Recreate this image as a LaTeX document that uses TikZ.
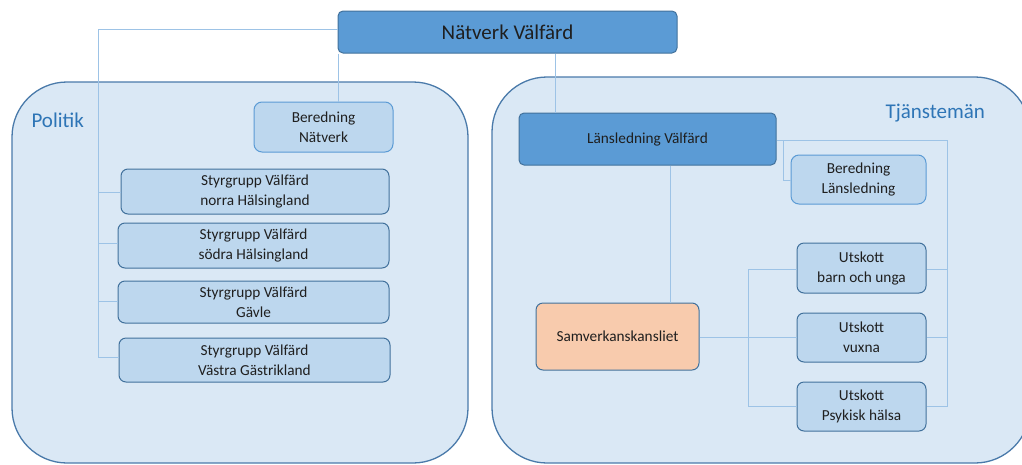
\documentclass[tikz,border=0pt]{standalone}
\usepackage{fontspec}
\setmainfont{Carlito}
\definecolor{darkfill}{HTML}{5B9BD5}
\definecolor{darkedge}{HTML}{41719C}
\definecolor{lightfill}{HTML}{BDD7EE}
\definecolor{contfill}{HTML}{DAE8F5}
\definecolor{contedge}{HTML}{4A7AAA}
\definecolor{linecol}{HTML}{9DC3E6}
\definecolor{orangefill}{HTML}{F8CBAD}
\definecolor{titlecol}{HTML}{2E75B6}
\definecolor{txt}{HTML}{1F1F1F}
\begin{document}
\begin{tikzpicture}[x=1pt,y=-1pt,
  container/.style={fill=contfill,draw=contedge,line width=1.3pt,rounded corners=55pt},
  topbox/.style={draw=darkedge,fill=darkfill,line width=1pt,rounded corners=5pt,text=txt},
  subbox/.style={draw=darkedge,fill=lightfill,line width=1pt,rounded corners=7pt,text=txt,align=center,font=\fontsize{15.3}{20}\selectfont},
  lightbox/.style={draw=darkfill,fill=lightfill,line width=1pt,rounded corners=8pt,text=txt,align=center,font=\fontsize{15.3}{20}\selectfont},
  conn/.style={draw=linecol,line width=1pt},
  grouplabel/.style={text=titlecol,font=\fontsize{21}{24}\selectfont,anchor=west}
]
\useasboundingbox (0,0) rectangle (1022,464);
\begin{scope}
\clip (0,0) rectangle (1022,464);
\draw[container] (12,82) rectangle (468,463);
\draw[container] (492,77) rectangle (1030,463);
\end{scope}
\node[grouplabel] (politik) at (28,120) {Politik};
\node[grouplabel] (tjanst) at (882,113) {Tjänstemän};

% boxes
\node[topbox,minimum width=339pt,minimum height=42pt,font=\fontsize{21}{24}\selectfont] (natverk) at (507.5,32) {Nätverk Välfärd};
\node[lightbox,minimum width=139pt,minimum height=50pt] (bern) at (323.5,127) {Beredning\\Nätverk};
\node[subbox,minimum width=268pt,minimum height=45pt] (s1) at (255,191.5) {Styrgrupp Välfärd\\norra Hälsingland};
\node[subbox,minimum width=271pt,minimum height=45pt] (s2) at (253.5,245.5) {Styrgrupp Välfärd\\södra Hälsingland};
\node[subbox,minimum width=271pt,minimum height=42pt] (s3) at (253.5,302) {Styrgrupp Välfärd\\Gävle};
\node[subbox,minimum width=271pt,minimum height=44pt] (s4) at (254.5,360) {Styrgrupp Välfärd\\Västra Gästrikland};

\node[topbox,minimum width=257pt,minimum height=52pt,font=\fontsize{15.3}{20}\selectfont] (lans) at (647.5,139) {Länsledning Välfärd};
\node[lightbox,minimum width=135pt,minimum height=49pt] (berl) at (858.5,179.5) {Beredning\\Länsledning};
\node[subbox,fill=orangefill,minimum width=163pt,minimum height=67pt] (samv) at (617.5,336.5) {Samverkanskansliet};
\node[subbox,minimum width=129pt,minimum height=50pt] (u1) at (861.5,268) {Utskott\\barn och unga};
\node[subbox,minimum width=129pt,minimum height=49pt] (u2) at (861.5,337.5) {Utskott\\vuxna};
\node[subbox,minimum width=129pt,minimum height=49pt] (u3) at (861.5,406.5) {Utskott\\Psykisk hälsa};

% connectors
\coordinate (lbus) at (98,29);
\draw[conn] (natverk.west |- lbus) -- (lbus) -- (98,357) -- (s4.west |- 0,357);
\draw[conn] (98,192) -- (s1.west |- 0,192);
\draw[conn] (98,243) -- (s2.west |- 0,243);
\draw[conn] (98,301) -- (s3.west |- 0,301);
\draw[conn] (natverk.south west -| 338.5,0) -- (bern.north -| 338.5,0);
\draw[conn] (natverk.south -| 555,0) -- (lans.north -| 555,0);
\draw[conn] (lans.east |- 0,140) -- (947,140) -- (947,406) -- (u3.east |- 0,406);
\draw[conn] (947,269) -- (u1.east |- 0,269);
\draw[conn] (947,337) -- (u2.east |- 0,337);
\draw[conn] (783,140) -- (783,180) -- (berl.west |- 0,180);
\draw[conn] (lans.south -| 670,0) -- (samv.north -| 670,0);
\draw[conn] (samv.east |- 0,337) -- (u2.west |- 0,337);
\draw[conn] (748,269) -- (748,406);
\draw[conn] (748,269) -- (u1.west |- 0,269);
\draw[conn] (748,406) -- (u3.west |- 0,406);
\end{tikzpicture}
\end{document}
